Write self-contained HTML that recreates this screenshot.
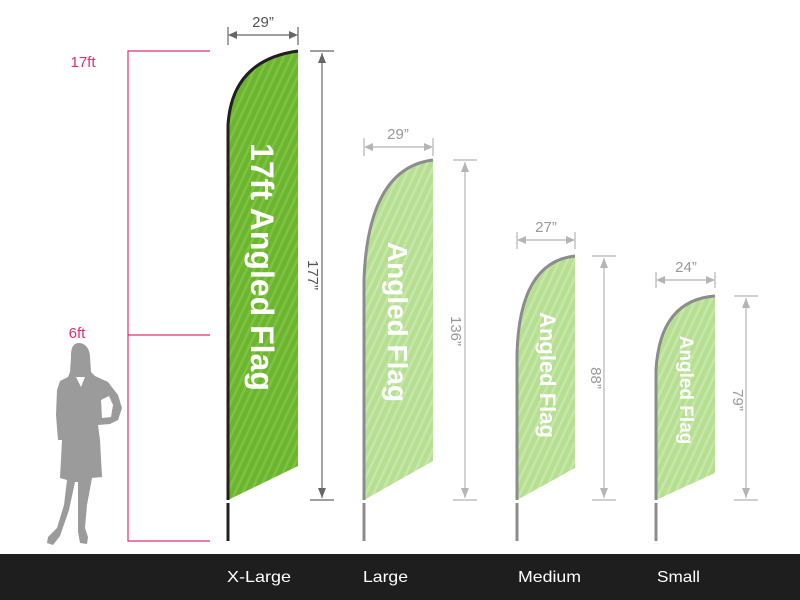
<!DOCTYPE html>
<html><head><meta charset="utf-8"><style>
html,body{margin:0;padding:0;background:#fff;}
svg{display:block;font-family:"Liberation Sans",Arial,sans-serif;}
</style></head><body>
<svg width="800" height="600" viewBox="0 0 800 600" xmlns="http://www.w3.org/2000/svg">
<defs>
<pattern id="s1" width="7" height="7" patternUnits="userSpaceOnUse" patternTransform="rotate(25)">
<rect width="7" height="7" fill="#6cb52f"/><rect width="2.5" height="7" fill="#7fc243"/></pattern>
<pattern id="s2" width="7" height="7" patternUnits="userSpaceOnUse" patternTransform="rotate(25)">
<rect width="7" height="7" fill="#b6df92"/><rect width="2.5" height="7" fill="#c6e7aa"/></pattern>
</defs>
<rect width="800" height="600" fill="#fff"/>
<!-- pink bracket -->
<g stroke="#e0306a" stroke-width="1.2" fill="none">
<path d="M210 51H128V541H210M128 335H210"/>
</g>
<text x="83" y="67" font-size="15" fill="#e0306a" text-anchor="middle">17ft</text>
<text x="77" y="338" font-size="15" fill="#e0306a" text-anchor="middle">6ft</text>
<!-- person -->
<path fill="#9b9b9b" d="M79 343 C72 343 71 350 71 357 L70 372 L68 377 L60 381 L57 390 L56 415 L58 440 L62 440 L60 478 L67 480 L64 505 L57 528 L48 537 L47 543 L53 545 L60 536 L69 510 L75 482 L78 482 L78 510 L78 532 L80 543 L87 544 L88 537 L85 528 L87 505 L92 478 L102 477 L100 440 L98 425 L110 424 L118 420 L122 408 L118 395 L108 382 L95 376 L91 372 L90 357 C90 350 86 343 79 343 Z"/>
<path fill="#fff" d="M76 377 L81 387 L85 377 Z"/>
<path fill="#fff" d="M101 400 L109 396 L113 405 L111 417 L102 418 Z"/>
<!-- XL flag -->
<path d="M228 125Q232 60 298 51V466L228 500Z" fill="url(#s1)"/>
<path d="M228 500V125Q232 60 298 51" fill="none" stroke="#231f20" stroke-width="3"/>
<rect x="226.5" y="503" width="3" height="38" fill="#231f20"/>
<text transform="translate(251,267) rotate(90)" font-size="32" font-weight="bold" fill="#fff" text-anchor="middle">17ft Angled Flag</text>
<!-- Large -->
<path d="M364 280Q368 168 433 160V461L364 500Z" fill="url(#s2)"/>
<path d="M364 500V280Q368 168 433 160" fill="none" stroke="#8c8c8c" stroke-width="3"/>
<rect x="362.5" y="503" width="3" height="38" fill="#8c8c8c"/>
<text transform="translate(388,322) rotate(90)" font-size="28" font-weight="bold" fill="#fff" text-anchor="middle">Angled Flag</text>
<!-- Medium -->
<path d="M517 355Q519 262 575 256V468L517 500Z" fill="url(#s2)"/>
<path d="M517 500V355Q519 262 575 256" fill="none" stroke="#8c8c8c" stroke-width="3"/>
<rect x="515.5" y="503" width="3" height="38" fill="#8c8c8c"/>
<text transform="translate(540,375) rotate(90)" font-size="22" font-weight="bold" fill="#fff" text-anchor="middle">Angled Flag</text>
<!-- Small -->
<path d="M656 370Q660 300 715 296V473L656 500Z" fill="url(#s2)"/>
<path d="M656 500V370Q660 300 715 296" fill="none" stroke="#8c8c8c" stroke-width="3"/>
<rect x="654.5" y="503" width="3" height="38" fill="#8c8c8c"/>
<text transform="translate(680,390) rotate(90)" font-size="19" font-weight="bold" fill="#fff" text-anchor="middle">Angled Flag</text>
<!-- XL dims (dark) -->
<g stroke="#666" stroke-width="1.2" fill="none">
<path d="M228 27V45M298 27V45M230 35H296M310 51H334M310 500H334M322 53V498"/>
</g>
<g fill="#666">
<path d="M228 35l9-4v8zM298 35l-9-4v8zM322 53l-4 10h8zM322 498l-4-10h8z"/>
</g>
<text x="263" y="27" font-size="15" fill="#555" text-anchor="middle">29”</text>
<text transform="translate(308,275) rotate(90)" font-size="15" fill="#555" text-anchor="middle">177”</text>
<!-- light dims -->
<g stroke="#b5b5b5" stroke-width="1.2" fill="none">
<path d="M364 138V156M433 138V156M366 147H431M453 160H477M453 500H477M465 162V498"/>
<path d="M517 232V249M575 232V249M519 240H573M592 256H616M592 500H616M604 258V498"/>
<path d="M656 272V288M715 272V288M658 280H713M734 296H758M734 500H758M746 298V498"/>
</g>
<g fill="#b5b5b5">
<path d="M364 147l9-4v8zM433 147l-9-4v8zM465 162l-4 10h8zM465 498l-4-10h8z"/>
<path d="M517 240l9-4v8zM575 240l-9-4v8zM604 258l-4 10h8zM604 498l-4-10h8z"/>
<path d="M656 280l9-4v8zM715 280l-9-4v8zM746 298l-4 10h8zM746 498l-4-10h8z"/>
</g>
<g fill="#999" font-size="15" text-anchor="middle">
<text x="398" y="139">29”</text>
<text x="546" y="232">27”</text>
<text x="686" y="272">24”</text>
<text transform="translate(451,331) rotate(90)">136”</text>
<text transform="translate(591,378) rotate(90)">88”</text>
<text transform="translate(733,400) rotate(90)">79”</text>
</g>
<!-- footer -->
<rect x="0" y="554" width="800" height="46" fill="#1e1e1e"/>
<g fill="#fff" font-size="16">
<text x="227" y="582" textLength="64" lengthAdjust="spacingAndGlyphs">X-Large</text>
<text x="363" y="582" textLength="45" lengthAdjust="spacingAndGlyphs">Large</text>
<text x="518" y="582" textLength="63" lengthAdjust="spacingAndGlyphs">Medium</text>
<text x="657" y="582" textLength="43" lengthAdjust="spacingAndGlyphs">Small</text>
</g>
</svg>
</body></html>
